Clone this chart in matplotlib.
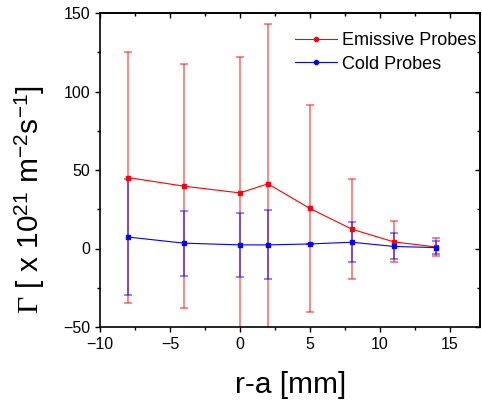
import matplotlib
matplotlib.use("Agg")
import matplotlib.pyplot as plt
from matplotlib.ticker import MultipleLocator
from matplotlib.lines import Line2D

plt.rcParams['font.family'] = ['Liberation Sans', 'DejaVu Sans']
plt.rcParams['mathtext.fontset'] = 'custom'
plt.rcParams['mathtext.rm'] = 'Liberation Serif'
plt.rcParams['mathtext.it'] = 'Liberation Serif:italic'
plt.rcParams['mathtext.sf'] = 'Liberation Sans'

# Data
r_minus_a = [-8, -4, 0, 2, 5, 8, 11, 14]
emissive = [45.2, 39.7, 35.4, 41.2, 25.5, 12.3, 4.2, 1.0]
emissive_err = [80, 77.5, 86.6, 101.5, 66, 32, 13, 6]
cold = [7.3, 3.4, 2.3, 2.3, 2.9, 4.0, 1.3, 0.6]
cold_err = [37, 20.7, 20.6, 22, 0, 12.9, 8.3, 4]

red = '#ff0000'
blue = '#0000ff'

fig = plt.figure(figsize=(4.82, 4.0), dpi=100)
ax = fig.add_axes([100/482, 1 - 327/400, 380/482, 314/400])

# error bars (semi-transparent)
ax.errorbar(r_minus_a, emissive, yerr=emissive_err, fmt='none', ecolor=red,
            alpha=0.55, elinewidth=1.2, capsize=2.6, capthick=1.2, zorder=2)
ax.errorbar(r_minus_a, cold, yerr=cold_err, fmt='none', ecolor=blue,
            alpha=0.55, elinewidth=1.2, capsize=2.6, capthick=1.2, zorder=2)
ax.plot(r_minus_a, emissive, color=red, lw=0.8, marker='s', ms=3, zorder=3)
ax.plot(r_minus_a, cold, color=blue, lw=0.8, marker='s', ms=3, zorder=3)

ax.set_xlim(-10, 17.15)
ax.set_ylim(-50, 150)
ax.xaxis.set_major_locator(MultipleLocator(5))
ax.xaxis.set_minor_locator(MultipleLocator(2.5))
ax.yaxis.set_major_locator(MultipleLocator(50))
ax.yaxis.set_minor_locator(MultipleLocator(25))

for s in ax.spines.values():
    s.set_linewidth(1.2)

ax.tick_params(which='major', direction='out', length=3.6, width=1.0,
               labelsize=11.5, pad=3.5)
ax.tick_params(which='minor', direction='out', length=2.2, width=1.0)

# mirrored inward ticks on top/right
top = ax.secondary_xaxis('top')
top.xaxis.set_major_locator(MultipleLocator(5))
top.xaxis.set_minor_locator(MultipleLocator(2.5))
top.tick_params(which='major', direction='in', length=3.6, width=1.0, labeltop=False)
top.tick_params(which='minor', direction='in', length=2.2, width=1.0)
top.spines['top'].set_linewidth(1.2)
right = ax.secondary_yaxis('right')
right.yaxis.set_major_locator(MultipleLocator(50))
right.yaxis.set_minor_locator(MultipleLocator(25))
right.tick_params(which='major', direction='in', length=3.6, width=1.0, labelright=False)
right.tick_params(which='minor', direction='in', length=2.2, width=1.0)
right.spines['right'].set_linewidth(1.2)

# legend
handles = [Line2D([], [], color=red, lw=0.8, marker='o', ms=3),
           Line2D([], [], color=blue, lw=0.8, marker='o', ms=3)]
fig.legend(handles, ['Emissive Probes', 'Cold Probes'], frameon=False,
           fontsize=13, handlelength=2.3, handletextpad=0.33, labelspacing=0.37,
           loc='upper left', bbox_to_anchor=(295/482, 1 - 32/400),
           borderpad=0, borderaxespad=0)

fig.text(291/482, 0.003, 'r-a [mm]', ha='center', va='bottom', fontsize=21.5)
fig.text(0.063, 0.5, r'$\Gamma$ [ x 10$^{\mathsf{21}}$ m$^{\mathsf{-2}}$s$^{\mathsf{-1}}$]',
         ha='center', va='center', rotation=90, fontsize=21.5)

fig.savefig('out.png', dpi=100)
